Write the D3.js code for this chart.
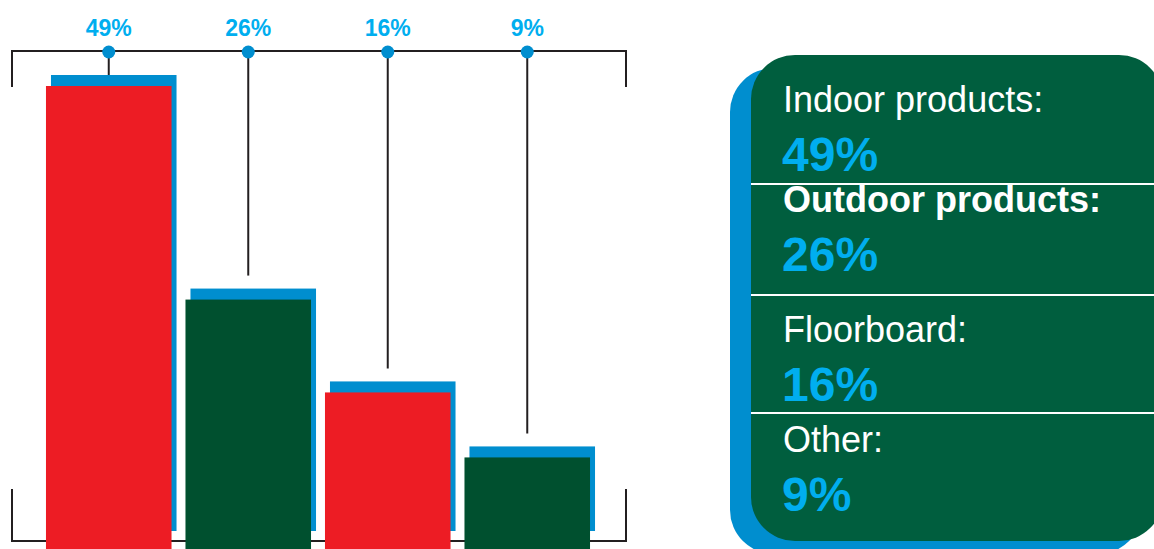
<!DOCTYPE html>
<html>
<head>
<meta charset="utf-8">
<script src="https://cdn.jsdelivr.net/npm/d3@7"></script>
<style>
  html, body { margin: 0; padding: 0; background: #ffffff; }
  svg { display: block; }
  text { font-family: "Liberation Sans", Arial, Helvetica, sans-serif; }
</style>
</head>
<body>
<svg id="chart" width="1154" height="549"></svg>
<script>
// ---- data ----
const categories = ["Indoor products", "Outdoor products", "Floorboard", "Other"];
const values = [49, 26, 16, 9];
const valueLabels = ["49%", "26%", "16%", "9%"];

// ---- styles ----
const barColors = ["#ed1c24", "#00502f", "#ed1c24", "#00502f"];
const shadowBlue = "#008ecf";
const labelBlue = "#00aeef";
const panelGreen = "#005e3e";
const lineColor = "#231f20";
const legendWeights = ["normal", "bold", "normal", "normal"];

const svg = d3.select("#chart");

// ---- scales ----
const x = d3.scaleBand().domain(categories).range([39, 597]).paddingInner(0.1).paddingOuter(0.05);
const y = d3.scaleLinear().domain([0, 49]).range([541, 86]);

const bracketTop = 51, bracketBottom = 541, bL = 12, bR = 626;
const shadowDx = 5, shadowDy = 11, shadowBottomGap = 10;

// ---- shadows ----
svg.append("g").selectAll("rect").data(categories).join("rect")
  .attr("x", d => x(d) + shadowDx)
  .attr("y", (d, i) => y(values[i]) - shadowDy)
  .attr("width", x.bandwidth())
  .attr("height", (d, i) => (y(0) - shadowBottomGap) - (y(values[i]) - shadowDy))
  .attr("fill", shadowBlue);

// ---- bottom bracket (behind bars) ----
svg.append("path")
  .attr("d", `M${bL},${bracketBottom - 52} V${bracketBottom} H${bR} V${bracketBottom - 52}`)
  .attr("fill", "none").attr("stroke", lineColor).attr("stroke-width", 2);

// ---- bars ----
svg.append("g").selectAll("rect").data(categories).join("rect")
  .attr("x", d => x(d))
  .attr("y", (d, i) => y(values[i]))
  .attr("width", x.bandwidth())
  .attr("height", (d, i) => y(0) - y(values[i]) + 12)
  .attr("fill", (d, i) => barColors[i]);

// ---- top bracket ----
svg.append("path")
  .attr("d", `M${bL},${bracketTop + 36} V${bracketTop} H${bR} V${bracketTop + 36}`)
  .attr("fill", "none").attr("stroke", lineColor).attr("stroke-width", 2);

// ---- leader lines ----
svg.append("g").selectAll("line").data(categories).join("line")
  .attr("x1", d => x(d) + x.bandwidth() / 2)
  .attr("x2", d => x(d) + x.bandwidth() / 2)
  .attr("y1", bracketTop)
  .attr("y2", (d, i) => {
    const end = y(values[i]) - 24;
    return (end - bracketTop < 20) ? y(values[i]) - shadowDy : end;
  })
  .attr("stroke", lineColor).attr("stroke-width", 2);

// ---- dots ----
svg.append("g").selectAll("circle").data(categories).join("circle")
  .attr("cx", d => x(d) + x.bandwidth() / 2)
  .attr("cy", bracketTop + 1)
  .attr("r", 6.5)
  .attr("fill", shadowBlue);

// ---- top labels ----
svg.append("g").selectAll("text").data(categories).join("text")
  .attr("x", d => x(d) + x.bandwidth() / 2)
  .attr("y", 36)
  .attr("text-anchor", "middle")
  .attr("font-size", 23)
  .attr("font-weight", "bold")
  .attr("fill", labelBlue)
  .text((d, i) => valueLabels[i]);

// ---- legend panel ----
const panel = { x: 751, y: 55, w: 412, h: 486, r: 44 };
svg.append("rect")
  .attr("x", panel.x - 21).attr("y", panel.y + 13)
  .attr("width", panel.w).attr("height", panel.h)
  .attr("rx", panel.r).attr("fill", shadowBlue);
svg.append("rect")
  .attr("x", panel.x).attr("y", panel.y)
  .attr("width", panel.w).attr("height", panel.h)
  .attr("rx", panel.r).attr("fill", panelGreen);

const dividerY = [184, 295, 413];
svg.append("g").selectAll("line").data(dividerY).join("line")
  .attr("x1", panel.x).attr("x2", panel.x + panel.w)
  .attr("y1", d => d).attr("y2", d => d)
  .attr("stroke", "#ffffff").attr("stroke-width", 2);

const legendLabelY = [112, 212, 342, 452];
const legendValueOffset = 59;
const lg = svg.append("g");
lg.selectAll("text.cat").data(categories).join("text")
  .attr("class", "cat")
  .attr("x", 783)
  .attr("y", (d, i) => legendLabelY[i])
  .attr("font-size", 36)
  .attr("font-weight", (d, i) => legendWeights[i])
  .attr("fill", "#ffffff")
  .text(d => d + ":");
lg.selectAll("text.val").data(categories).join("text")
  .attr("class", "val")
  .attr("x", 782)
  .attr("y", (d, i) => legendLabelY[i] + legendValueOffset)
  .attr("font-size", 48)
  .attr("font-weight", "bold")
  .attr("fill", labelBlue)
  .text((d, i) => valueLabels[i]);
</script>
</body>
</html>
